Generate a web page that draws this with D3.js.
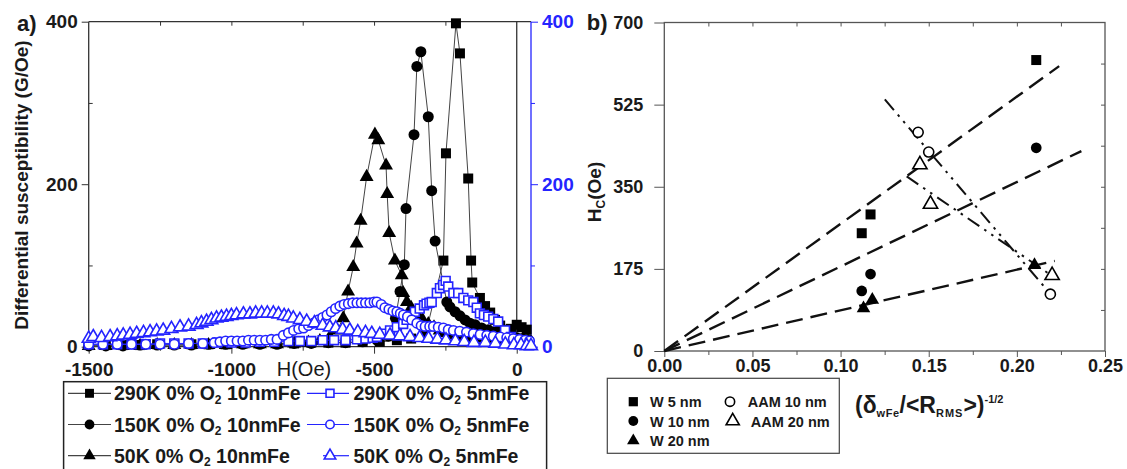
<!DOCTYPE html>
<html>
	<head>
		<meta charset="utf-8"/>
		<title>Differential susceptibility and coercivity</title>
		<script src="https://cdn.jsdelivr.net/npm/d3@7/dist/d3.min.js"></script>
		<style>
			body { margin: 0; background: #fff; }
			svg text { font-family: "Liberation Sans", Arial, sans-serif; font-weight: bold; fill: #1a1a1a; }
		</style>
	</head>
	<body>
		<svg id="chart" width="1127" height="469"></svg>
		<script>
			// ---- panel a : field sweeps, [H (Oe), dM/dH (G/Oe)] ----
			var sq290K10 = [[-1500,2],[-1440,2],[-1380,2],[-1320,2],[-1260,3],[-1200,3],[-1140,3],[-1080,3],[-1020,3],[-960,4],[-900,4],[-840,4],[-780,4],[-720,5],[-660,5],[-600,5],[-540,6],[-480,6],[-420,8],[-370,10],[-321,13],[-257,106],[-248,238],[-213,398],[-199,361],[-170,207],[-160,106],[-156,79],[-129,60],[-111,50],[-93,42],[-76,33],[-58,26],[-41,21],[-20,22],[0,27],[17,24],[35,21]];
			var ci150K10 = [[-1500,1],[-1440,1],[-1380,1],[-1320,2],[-1260,2],[-1200,2],[-1140,2],[-1080,3],[-1020,3],[-960,3],[-900,3],[-840,3],[-780,4],[-720,4],[-660,5],[-600,5],[-540,6],[-490,8],[-450,13],[-425,35],[-409,68],[-394,101],[-388,170],[-360,261],[-350,345],[-336,363],[-310,283],[-298,192],[-286,130],[-245,55],[-234,49],[-216,43],[-199,38],[-181,33],[-164,29],[-146,27],[-123,23],[-100,21],[-80,18],[-60,16],[-40,14],[-20,13],[0,11],[20,10],[40,9]];
			var tr50K10 = [[-1500,1],[-1440,1],[-1380,1],[-1320,1],[-1260,2],[-1200,2],[-1140,2],[-1080,2],[-1020,2],[-960,3],[-900,3],[-840,3],[-780,4],[-730,5],[-690,7],[-655,12],[-630,20],[-608,35],[-591,68],[-573,98],[-561,127],[-547,155],[-526,209],[-497,261],[-485,254],[-458,223],[-454,188],[-447,140],[-427,106],[-403,88],[-398,66],[-385,55],[-370,48],[-350,40],[-330,33],[-310,28],[-290,24],[-270,20],[-250,17],[-225,14],[-200,12],[-170,10],[-140,8],[-110,7],[-80,6],[-50,5],[-20,4],[10,3],[40,3]];
			var sq290K5 = [[-1500,3],[-1450,3],[-1400,3],[-1350,3],[-1300,3],[-1250,4],[-1200,4],[-1150,4],[-1100,4],[-1050,5],[-1000,5],[-950,5],[-900,6],[-850,6],[-800,7],[-760,7],[-720,7],[-680,8],[-640,8],[-600,8],[-560,9],[-530,10],[-505,11],[-490,12],[-468,16],[-444,20],[-420,24],[-398,28],[-386,33],[-370,38],[-357,43],[-340,47],[-325,51],[-316,53],[-306,54],[-298,55],[-280,66],[-269,72],[-258,76],[-249,81],[-240,74],[-222,66],[-205,66],[-187,60],[-170,57],[-152,55],[-140,48],[-129,41],[-115,39],[-100,37],[-82,34],[-65,31],[-41,20],[-20,12],[0,8],[20,6],[40,5]];
			var ci150K5 = [[-1500,3],[-1450,3],[-1400,3],[-1350,3],[-1300,3],[-1250,3],[-1200,3],[-1150,4],[-1100,4],[-1060,5],[-1040,6],[-1020,7],[-1000,7],[-980,7],[-960,7],[-940,8],[-920,8],[-900,8],[-880,8],[-860,9],[-840,9],[-818,14],[-800,17],[-782,20],[-764,22],[-747,23],[-730,26],[-712,29],[-695,33],[-680,36],[-665,39],[-650,43],[-635,47],[-620,50],[-605,52],[-590,53],[-575,54],[-560,54],[-545,54],[-530,54],[-515,54],[-500,55],[-490,55],[-475,52],[-462,48],[-448,46],[-434,44],[-420,43],[-408,41],[-397,39],[-383,37],[-368,33],[-350,29],[-335,26],[-321,25],[-305,25],[-292,25],[-275,24],[-257,23],[-240,21],[-222,20],[-200,19],[-176,18],[-152,16],[-128,15],[-105,14],[-82,13],[-58,12],[-35,11],[-12,10],[10,9],[30,8],[45,7]];
			var tr50K5 = [[-1500,10],[-1484,12],[-1455,11],[-1425,12],[-1400,13],[-1379,14],[-1355,15],[-1332,16],[-1308,17],[-1285,18],[-1262,19],[-1239,20],[-1210,22],[-1180,24],[-1150,25],[-1122,27],[-1105,29],[-1087,31],[-1070,33],[-1052,35],[-1035,36],[-1017,37],[-1000,38],[-982,39],[-958,40],[-935,40],[-915,41],[-894,41],[-874,41],[-853,41],[-835,40],[-815,38],[-800,37],[-783,35],[-760,33],[-736,31],[-709,29],[-680,26],[-655,24],[-634,23],[-610,21],[-585,20],[-557,18],[-530,17],[-508,16],[-480,15],[-444,14],[-410,13],[-374,12],[-340,11],[-309,10],[-278,9],[-248,8],[-215,7],[-184,6],[-150,5],[-110,5],[-75,4],[-40,3],[-10,2],[15,2],[35,1],[50,1]];

			var aXTicks = [-1500, -1000, -500, 0];
			var aXMinor = [-1250, -750, -250];
			var aYTicks = [0, 200, 400];
			var aYMinor = [100, 300];
			var legendTemps = ["290K", "150K", "50K"];

			// ---- panel b : coercivity vs (delta/<R_RMS>)^-1/2 ----
			var w5X = [0.112, 0.117, 0.211],  w5Y = [251, 291, 620];
			var w10X = [0.112, 0.117, 0.211], w10Y = [128, 164, 433];
			var w20X = [0.113, 0.118, 0.210], w20Y = [91, 109, 183];
			var aam10X = [0.144, 0.150, 0.219], aam10Y = [466, 424, 121];
			var aam20X = [0.145, 0.151, 0.220], aam20Y = [397, 313, 161];
			// fitted lines, [x, Hc] end points
			var fitW5 = [[0, 0], [0.224, 607]];
			var fitW10 = [[0, 0], [0.2366, 426]];
			var fitW20 = [[0, 0], [0.2215, 192]];
			var fitAam10 = [[0.1251, 536], [0.2187, 123]];
			var fitAam20 = [[0.1375, 372], [0.2196, 161]];
			var bXTicks = [0, 0.05, 0.10, 0.15, 0.20, 0.25];
			var bYTicks = [0, 175, 350, 525, 700];

			var BLUE = "#2424ff";
			var svg = d3.select("#chart");

			function zip(xs, ys) { return xs.map(function(x, i) { return [x, ys[i]]; }); }

			function styleAxis(g, color, size) {
				g.select(".domain").remove();
				g.selectAll("line").attr("stroke", color);
				g.selectAll("text").style("font-size", size + "px");
			}

			function marker(sel, shape, size, color, open) {
				sel.attr("d", d3.symbol().type(shape).size(size))
					.attr("fill", open ? "#fff" : color)
					.attr("stroke", open ? color : "none")
					.attr("stroke-width", open ? 1.6 : 0);
			}

			// =============== panel a ===============
			var xA = d3.scaleLinear().domain([-1500, 50]).range([88.7, 531]);
			var yA = d3.scaleLinear().domain([0, 400]).range([346.7, 21.7]);
			var gA = svg.append("g");

			gA.append("g").attr("transform", "translate(0," + yA(0) + ")")
				.call(d3.axisBottom(xA).tickValues(aXTicks).tickSize(7).tickPadding(9).tickFormat(function(d) { return String(d); }))
				.call(styleAxis, "#333", 19);
			gA.append("g").attr("transform", "translate(0," + yA(0) + ")")
				.call(d3.axisBottom(xA).tickValues(aXMinor).tickSize(4).tickFormat(""))
				.call(styleAxis, "#333", 19);
			gA.append("g").attr("transform", "translate(0," + yA(400) + ")")
				.call(d3.axisTop(xA).tickValues(aXMinor.concat([-1000, -500])).tickSize(-4).tickFormat(""))
				.call(styleAxis, "#333", 19);
			gA.append("g").attr("transform", "translate(" + xA(-1500) + ",0)")
				.call(d3.axisLeft(yA).tickValues(aYTicks).tickSize(7).tickPadding(4))
				.call(styleAxis, "#333", 19);
			gA.append("g").attr("transform", "translate(" + xA(-1500) + ",0)")
				.call(d3.axisLeft(yA).tickValues(aYMinor).tickSize(-4).tickFormat(""))
				.call(styleAxis, "#333", 19);
			var rightA = gA.append("g").attr("transform", "translate(" + xA(50) + ",0)")
				.call(d3.axisRight(yA).tickValues(aYTicks).tickSize(7).tickPadding(4))
				.call(styleAxis, BLUE, 19);
			rightA.selectAll("text").style("fill", BLUE);
			gA.append("g").attr("transform", "translate(" + xA(50) + ",0)")
				.call(d3.axisRight(yA).tickValues(aYMinor).tickSize(4).tickFormat(""))
				.call(styleAxis, BLUE, 19);

			// frame
			gA.append("line").attr("x1", xA(-1500)).attr("x2", xA(50)).attr("y1", yA(0)).attr("y2", yA(0)).attr("stroke", "#333").attr("stroke-width", 1.3);
			gA.append("line").attr("x1", xA(-1500)).attr("x2", xA(50)).attr("y1", yA(400)).attr("y2", yA(400)).attr("stroke", "#333").attr("stroke-width", 1.3);
			gA.append("line").attr("x1", xA(-1500)).attr("x2", xA(-1500)).attr("y1", yA(0)).attr("y2", yA(400)).attr("stroke", "#333").attr("stroke-width", 1.3);
			gA.append("line").attr("x1", xA(0)).attr("x2", xA(0)).attr("y1", yA(0)).attr("y2", yA(400)).attr("stroke", "#333").attr("stroke-width", 1.3);
			gA.append("line").attr("x1", xA(50)).attr("x2", xA(50)).attr("y1", yA(0)).attr("y2", yA(400)).attr("stroke", BLUE).attr("stroke-width", 1.3);

			var seriesA = [
				{ data: sq290K10, shape: d3.symbolSquare, size: 100, color: "#000", line: "#444", open: false, temp: legendTemps[0], fe: "10nmFe" },
				{ data: ci150K10, shape: d3.symbolCircle, size: 95, color: "#000", line: "#444", open: false, temp: legendTemps[1], fe: "10nmFe" },
				{ data: tr50K10, shape: d3.symbolTriangle, size: 84, color: "#000", line: "#444", open: false, temp: legendTemps[2], fe: "10nmFe" },
				{ data: sq290K5, shape: d3.symbolSquare, size: 78, color: BLUE, line: BLUE, open: true, temp: legendTemps[0], fe: "5nmFe" },
				{ data: ci150K5, shape: d3.symbolCircle, size: 70, color: BLUE, line: BLUE, open: true, temp: legendTemps[1], fe: "5nmFe" },
				{ data: tr50K5, shape: d3.symbolTriangle, size: 72, color: BLUE, line: BLUE, open: true, temp: legendTemps[2], fe: "5nmFe" }
			];

			var lineA = d3.line().x(function(d) { return xA(d[0]); }).y(function(d) { return yA(d[1]); });
			seriesA.forEach(function(s) {
				var g = gA.append("g");
				g.append("path").datum(s.data).attr("d", lineA).attr("fill", "none").attr("stroke", s.line).attr("stroke-width", 1);
				g.selectAll("path.pt").data(s.data).join("path").attr("class", "pt")
					.attr("transform", function(d) { return "translate(" + xA(d[0]) + "," + yA(d[1]) + ")"; })
					.call(marker, s.shape, s.size, s.color, s.open);
			});

			// labels
			gA.append("text").attr("x", 17).attr("y", 30.5).style("font-size", "22px").text("a)");
			gA.append("text").attr("transform", "translate(28,185) rotate(-90)").attr("text-anchor", "middle")
				.style("font-size", "19px").text("Differential susceptibility (G/Oe)");
			gA.append("text").attr("x", 304).attr("y", 376).attr("text-anchor", "middle")
				.style("font-size", "20px").style("font-weight", "normal").text("H(Oe)");

			// legend a
			var legA = gA.append("g");
			legA.append("rect").attr("x", 63.6).attr("y", 381.7).attr("width", 483).attr("height", 110)
				.attr("fill", "#fff").attr("stroke", "#222").attr("stroke-width", 1.5);
			seriesA.forEach(function(s, i) {
				var col = i < 3 ? 0 : 1, row = i % 3;
				var cy = 393.3 + row * 31.2;
				var x0 = col === 0 ? 68 : (row === 2 ? 323 : 307), x1 = col === 0 ? 111 : 349;
				var mx = col === 0 ? 89.5 : 330;
				var tx = col === 0 ? 114 : 353.5;
				legA.append("line").attr("x1", x0).attr("x2", x1).attr("y1", cy).attr("y2", cy).attr("stroke", s.line).attr("stroke-width", 1.2);
				legA.append("path").attr("transform", "translate(" + mx + "," + cy + ")")
					.call(marker, s.shape, s.size * 0.8, s.color, s.open);
				var t = legA.append("text").attr("x", tx).attr("y", cy + 7).style("font-size", "19.5px");
				t.append("tspan").text(s.temp + " 0% O");
				t.append("tspan").attr("dy", 3.5).style("font-size", "12px").text("2");
				t.append("tspan").attr("dy", -3.5).text(" " + s.fe);
			});

			// =============== panel b ===============
			var xB = d3.scaleLinear().domain([0, 0.25]).range([664.3, 1105]);
			var yB = d3.scaleLinear().domain([0, 700]).range([351, 22.5]);
			var gB = svg.append("g");
			var frameB = "#555";

			gB.append("g").attr("transform", "translate(0," + yB(0) + ")")
				.call(d3.axisBottom(xB).tickValues(bXTicks).tickSize(6).tickPadding(2).tickFormat(d3.format(".2f")))
				.call(styleAxis, frameB, 18);
			gB.append("g").attr("transform", "translate(0," + yB(0) + ")")
				.call(d3.axisBottom(xB).tickValues([0.025, 0.075, 0.125, 0.175, 0.225]).tickSize(4).tickFormat(""))
				.call(styleAxis, frameB, 18);
			gB.append("g").attr("transform", "translate(0," + yB(700) + ")")
				.call(d3.axisTop(xB).tickValues(d3.range(1, 10).map(function(k) { return k * 0.025; })).tickSize(-4).tickFormat(""))
				.call(styleAxis, frameB, 18);
			gB.append("g").attr("transform", "translate(" + xB(0) + ",0)")
				.call(d3.axisLeft(yB).tickValues(bYTicks).tickSize(10).tickPadding(11))
				.call(styleAxis, frameB, 18);
			gB.append("g").attr("transform", "translate(" + xB(0.25) + ",0)")
				.call(d3.axisRight(yB).tickValues(d3.range(1, 8).map(function(k) { return k * 87.5; })).tickSize(-4).tickFormat(""))
				.call(styleAxis, frameB, 18);
			gB.append("rect").attr("x", xB(0)).attr("y", yB(700)).attr("width", xB(0.25) - xB(0)).attr("height", yB(0) - yB(700))
				.attr("fill", "none").attr("stroke", frameB).attr("stroke-width", 1.3);

			var lineB = d3.line().x(function(d) { return xB(d[0]); }).y(function(d) { return yB(d[1]); });
			[fitW5, fitW10, fitW20].forEach(function(f) {
				gB.append("path").datum(f).attr("d", lineB).attr("fill", "none").attr("stroke", "#111")
					.attr("stroke-width", 2.4).attr("stroke-dasharray", "17,8");
			});
			[fitAam10, fitAam20].forEach(function(f) {
				gB.append("path").datum(f).attr("d", lineB).attr("fill", "none").attr("stroke", "#111")
					.attr("stroke-width", 2).attr("stroke-dasharray", "14,6,2.5,6,2.5,6");
			});

			var seriesB = [
				{ data: zip(w5X, w5Y), shape: d3.symbolSquare, size: 100, open: false, label: "W 5 nm" },
				{ data: zip(w10X, w10Y), shape: d3.symbolCircle, size: 90, open: false, label: "W 10 nm" },
				{ data: zip(w20X, w20Y), shape: d3.symbolTriangle, size: 80, open: false, label: "W 20 nm" },
				{ data: zip(aam10X, aam10Y), shape: d3.symbolCircle, size: 80, open: true, label: "AAM 10 nm" },
				{ data: zip(aam20X, aam20Y), shape: d3.symbolTriangle, size: 88, open: true, label: "AAM 20 nm" }
			];
			seriesB.forEach(function(s) {
				gB.append("g").selectAll("path").data(s.data).join("path")
					.attr("transform", function(d) { return "translate(" + xB(d[0]) + "," + yB(d[1]) + ")"; })
					.call(marker, s.shape, s.size, "#000", s.open);
			});

			gB.append("text").attr("x", 586.7).attr("y", 30).style("font-size", "22px").text("b)");
			var yl = gB.append("text").attr("transform", "translate(601,192) rotate(-90)").attr("text-anchor", "middle").style("font-size", "19px");
			yl.append("tspan").text("H");
			yl.append("tspan").attr("dy", 4).style("font-size", "12px").text("C");
			yl.append("tspan").attr("dy", -4).text("(Oe)");

			var xl = gB.append("text").attr("x", 855).attr("y", 413).style("font-size", "23px");
			xl.append("tspan").text("(\u03b4");
			xl.append("tspan").attr("dy", 4).style("font-size", "11px").style("letter-spacing", "0.5px").text("wFe");
			xl.append("tspan").attr("dy", -4).text("/<R");
			xl.append("tspan").attr("dy", 4).style("font-size", "11px").style("letter-spacing", "1px").text("RMS");
			xl.append("tspan").attr("dy", -4).text(">)");
			xl.append("tspan").attr("dy", -10).style("font-size", "11px").text("-1/2");

			// legend b
			var legB = gB.append("g");
			legB.append("rect").attr("x", 607.3).attr("y", 378.3).attr("width", 232).attr("height", 75)
				.attr("fill", "#fff").attr("stroke", "#444").attr("stroke-width", 1.2);
			var legPos = [[633.3, 401.7, 650], [633.3, 421, 650], [633.3, 440.7, 650], [730, 401.7, 747.7], [732.7, 421, 750.7]];
			seriesB.forEach(function(s, i) {
				var p = legPos[i];
				legB.append("path").attr("transform", "translate(" + p[0] + "," + p[1] + ")")
					.call(marker, s.shape, s.size * 0.85, "#000", s.open);
				legB.append("text").attr("x", p[2]).attr("y", p[1] + 5.5).style("font-size", "14.5px").text(s.label);
			});
		</script>
	</body>
</html>
